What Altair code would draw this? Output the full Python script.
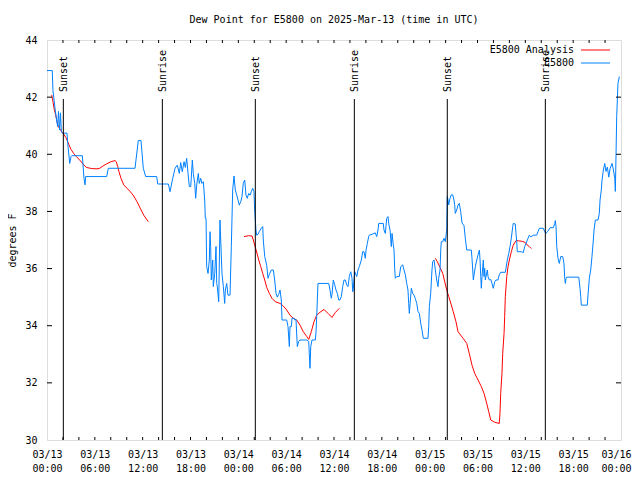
import altair as alt
import pandas as pd

# ---------------- data (hours since 2025-03-13 00:00 UTC, degrees F) ----------------
blue_hours = [
    0.0, 0.66, 0.75, 1.0, 1.2, 1.34, 1.44, 1.57, 1.69, 1.8, 1.92, 2.51, 2.6, 2.85, 3.01, 3.1,
    4.43, 4.64, 4.77, 4.85, 7.49, 7.69, 11.04, 11.45, 11.79, 12.08, 12.38, 13.76, 13.89, 15.22,
    15.43, 15.77, 16.06, 16.34, 16.6, 16.77, 16.97, 17.19, 17.35, 17.52, 17.69, 17.85, 18.03,
    18.23, 18.35, 18.53, 18.65, 18.78, 18.98, 19.1, 19.28, 19.44, 19.61, 19.78, 19.86, 19.95,
    20.03, 20.2, 20.36, 20.45, 20.53, 20.61, 20.79, 20.86, 21.04, 21.2, 21.29, 21.36, 21.54,
    21.7, 21.79, 21.95, 22.12, 22.29, 22.37, 22.54, 22.7, 22.96, 23.12, 23.29, 23.46, 23.62,
    23.8, 23.96, 24.12, 24.3, 24.46, 24.62, 24.8, 24.96, 25.12, 25.3, 25.47, 25.63, 25.8, 25.96,
    26.05, 26.13, 26.21, 26.3, 26.47, 26.63, 26.88, 27.06, 27.13, 27.31, 27.56, 27.72, 27.89,
    28.14, 28.39, 28.56, 28.73, 28.89, 29.06, 29.23, 29.39, 29.48, 30.07, 30.23, 30.4, 30.48,
    30.65, 30.73, 30.98, 31.07, 31.23, 31.4, 31.57, 31.74, 32.58, 32.83, 32.9, 32.99, 33.08,
    33.24, 33.66, 33.74, 33.83, 33.99, 35.34, 35.5, 35.66, 35.75, 35.91, 36.09, 36.25, 36.42,
    36.59, 36.75, 36.92, 37.09, 37.26, 37.42, 37.59, 37.76, 37.92, 38.1, 38.26, 38.35, 38.42,
    38.6, 38.85, 39.01, 39.18, 39.43, 39.6, 39.76, 39.93, 40.02, 40.18, 40.35, 40.43, 40.77,
    41.02, 41.18, 41.36, 41.52, 41.61, 42.18, 42.27, 42.44, 42.61, 42.77, 42.86, 43.03, 43.11,
    43.19, 43.28, 43.44, 43.53, 43.61, 43.69, 43.87, 44.19, 44.37, 44.62, 44.78, 44.95, 45.12,
    45.28, 45.37, 45.45, 45.53, 45.7, 45.87, 46.04, 46.2, 46.38, 46.54, 46.71, 46.88, 47.04,
    47.2, 47.79, 47.88, 47.96, 48.13, 48.29, 48.38, 48.55, 48.71, 48.88, 49.05, 49.13, 49.3,
    49.39, 49.46, 49.64, 49.8, 49.96, 50.14, 50.21, 50.3, 50.39, 50.55, 50.71, 50.89, 51.05,
    51.14, 51.21, 51.39, 51.56, 51.72, 51.89, 52.06, 52.31, 52.47, 52.65, 53.22, 53.31, 53.48,
    53.57, 53.73, 53.91, 54.07, 54.24, 54.32, 54.41, 54.48, 54.57, 54.66, 54.73, 54.82, 54.9,
    54.98, 55.07, 55.23, 55.32, 55.48, 55.66, 55.82, 55.98, 56.16, 56.32, 56.57, 56.73, 56.91,
    57.49, 57.57, 57.74, 57.92, 58.08, 58.24, 58.42, 58.49, 58.74, 58.83, 58.92, 58.99, 59.5,
    59.75, 59.92, 60.09, 60.34, 60.5, 60.68, 61.01, 61.43, 61.59, 61.76, 62.26, 62.43, 62.59,
    62.76, 62.93, 63.1, 63.51, 63.69, 63.76, 63.85, 63.94, 64.1, 64.26, 64.44, 64.69, 64.85,
    64.94, 65.02, 65.11, 65.19, 66.7, 66.86, 66.95, 67.02, 67.77, 67.86, 68.03, 68.2, 68.36,
    68.53, 68.62, 68.78, 69.12, 69.28, 69.37, 69.53, 69.62, 69.79, 69.96, 70.12, 70.29, 70.47,
    70.63, 70.88, 71.05, 71.22, 71.29, 71.38, 71.46, 71.62, 71.79,
]
blue_dewpoint = [
    42.93, 42.93, 42.23, 41.62, 41.2, 40.97, 41.5, 40.85, 41.45, 40.8, 40.74, 40.74, 40.38, 39.68,
    39.92, 39.95, 39.95, 39.16, 38.93, 39.22, 39.22, 39.51, 39.51, 40.48, 40.48, 39.51, 39.22,
    39.22, 38.96, 38.96, 38.69, 39.16, 39.51, 39.62, 39.33, 39.71, 39.39, 39.74, 39.54, 39.86,
    39.33, 38.87, 38.87, 39.8, 39.33, 38.98, 38.46, 38.93, 39.33, 38.98, 39.16, 38.98, 39.04,
    38.4, 37.76, 37.76, 36.07, 35.83, 36.3, 37.29, 36.77, 35.6, 36.3, 35.37, 35.83, 36.77, 35.48,
    35.37, 34.84, 37.7, 37.0, 35.83, 35.37, 34.78, 35.25, 35.48, 35.07, 35.07, 36.77, 38.75,
    39.24, 38.75, 38.57, 38.4, 38.22, 38.34, 38.52, 38.98, 39.1, 38.57, 38.46, 38.63, 38.57,
    38.69, 38.81, 38.69, 38.05, 37.7, 37.35, 37.17, 37.2, 37.3, 37.41, 37.47, 37.0, 36.42, 36.12,
    35.66, 35.8, 35.95, 35.95, 35.6, 35.13, 35.0, 35.1, 35.25, 34.9, 34.2, 34.2, 33.97, 33.27,
    33.97, 33.97, 34.26, 34.26, 34.2, 34.22, 33.27, 33.45, 33.5, 33.5, 33.45, 33.03, 32.51,
    33.27, 33.5, 33.5, 33.75, 34.32, 35.48, 35.48, 35.25, 34.96, 35.1, 35.6, 35.43, 35.25, 35.13,
    34.9, 34.9, 35.02, 35.37, 35.6, 35.6, 35.43, 35.37, 35.72, 35.89, 35.66, 35.19, 35.31, 35.89,
    35.72, 35.95, 36.07, 36.3, 36.59, 36.59, 36.36, 36.65, 36.88, 37.12, 37.17, 37.2, 37.23,
    37.25, 37.12, 37.35, 37.58, 37.58, 37.35, 37.23, 37.76, 37.82, 37.58, 37.35, 37.06, 36.77,
    37.23, 36.82, 36.65, 36.01, 35.66, 35.72, 35.72, 36.07, 36.13, 35.95, 35.78, 35.48, 35.25,
    34.78, 34.43, 34.72, 35.31, 35.13, 35.07, 34.95, 34.78, 34.49, 34.43, 34.08, 33.85, 33.56,
    33.56, 33.97, 34.67, 35.13, 35.95, 36.24, 36.3, 35.95, 35.6, 35.37, 35.66, 35.95, 36.65,
    36.94, 36.94, 37.06, 36.94, 37.35, 38.52, 38.4, 38.23, 38.46, 38.58, 38.58, 38.4, 38.23,
    37.93, 38.05, 38.22, 38.28, 37.99, 37.6, 37.5, 37.06, 36.65, 36.65, 36.36, 35.6, 35.78,
    36.07, 36.3, 36.48, 36.65, 36.3, 35.72, 35.31, 35.72, 36.07, 36.3, 35.72, 36.01, 35.6, 35.72,
    35.95, 35.72, 35.6, 35.62, 35.48, 35.31, 35.54, 35.6, 35.6, 35.78, 35.87, 35.87, 36.01,
    36.3, 36.53, 36.77, 37.06, 37.47, 37.58, 37.56, 37.23, 36.94, 36.59, 36.59, 36.56, 36.77,
    36.88, 37.06, 37.17, 37.11, 37.17, 37.17, 37.29, 37.41, 37.41, 37.29, 37.23, 37.29, 37.35,
    37.43, 37.43, 37.58, 37.68, 37.47, 36.77, 36.36, 36.18, 36.42, 36.42, 36.18, 35.66, 35.48,
    35.66, 35.7, 35.7, 35.31, 35.02, 34.72, 34.72, 35.07, 35.66, 35.95, 36.42, 37.0, 37.35,
    37.7, 37.7, 37.93, 38.4, 38.75, 39.1, 39.45, 39.68, 39.4, 39.55, 39.2, 39.5, 39.68, 39.45,
    39.16, 38.7, 40.03, 41.32, 42.48, 42.72,
]

analysis_hours = [
    0.59, 0.75, 0.92, 1.09, 1.25, 1.42, 1.59, 1.84, 2.09, 2.35, 2.51, 2.76, 3.01, 3.35, 3.68,
    4.1, 4.52, 4.93, 5.61, 6.27, 6.61, 7.02, 7.44, 8.03, 8.53, 8.69, 8.87, 9.03, 9.28, 9.62,
    10.04, 10.45, 10.88, 11.29, 11.7, 12.13, 12.71,
    24.71, 25.3, 25.72, 25.88, 26.05, 26.3, 26.56, 26.81, 27.06, 27.31, 27.56, 27.89, 28.22,
    28.64, 29.23, 29.64, 30.07, 30.48, 30.9, 31.32, 31.74, 32.15, 32.58, 32.83, 33.15, 33.49,
    33.83, 34.24, 34.75, 35.25, 35.75, 36.16, 36.67,
    48.71, 48.96, 49.3, 49.64, 49.89, 50.14, 50.39, 50.71, 50.96, 51.3, 51.56, 51.89, 52.22,
    52.65, 52.97, 53.31, 53.65, 54.07, 54.48, 54.82, 55.16, 55.41, 55.66, 56.16, 56.73, 56.82,
    56.91, 57.07, 57.16, 57.33, 57.41, 57.49, 57.67, 57.83, 58.0, 58.24, 58.49, 58.83, 59.17,
    59.67, 60.0, 60.25, 60.5, 60.75,
]
analysis_dewpoint = [
    42.08, 41.84, 41.55, 41.38, 41.15, 40.97, 40.9, 40.79, 40.71, 40.59, 40.5, 40.33, 40.17,
    40.03, 39.92, 39.8, 39.66, 39.54, 39.5, 39.49, 39.51, 39.59, 39.66, 39.74, 39.78, 39.74,
    39.57, 39.39, 39.16, 38.93, 38.81, 38.69, 38.54, 38.34, 38.11, 37.87, 37.64,
    37.12, 37.15, 37.14, 37.0, 36.82, 36.58, 36.3, 36.07, 35.83, 35.6, 35.34, 35.13, 34.96,
    34.84, 34.78, 34.69, 34.55, 34.37, 34.26, 34.2, 34.02, 33.79, 33.62, 33.52, 33.79, 34.14,
    34.37, 34.47, 34.57, 34.43, 34.29, 34.46, 34.61,
    36.36, 36.24, 36.04, 35.83, 35.54, 35.25, 35.02, 34.73, 34.49, 34.14, 33.79, 33.67, 33.55,
    33.38, 33.03, 32.62, 32.33, 32.1, 31.87, 31.63, 31.28, 30.99, 30.7, 30.62, 30.58, 30.93,
    31.63, 32.33, 33.03, 33.73, 34.32, 35.02, 35.72, 36.07, 36.3, 36.59, 36.82, 36.98, 36.97,
    36.95, 36.91, 36.82, 36.77, 36.7,
]

sun_hours = [2.05, 14.47, 26.13, 38.55, 50.21, 62.51]
sun_labels = ["Sunset", "Sunrise", "Sunset", "Sunrise", "Sunset", "Sunrise"]

x_tick_values = list(range(0, 73, 6))
x_minor_ticks = list(range(2, 72, 2))
y_tick_values = [30, 32, 34, 36, 38, 40, 42, 44]
legend_labels = ["E5800 Analysis", "E5800"]
series_colors = ["#ff0000", "#0080ff"]

title_text = "Dew Point for E5800 on 2025-Mar-13 (time in UTC)"
y_title = "degrees F"

FONT = "DejaVu Sans Mono"
W, H = 574, 400

# analysis runs are broken where there is no analysis (gaps of many hours)
analysis_segment = []
seg = 0
for i, h in enumerate(analysis_hours):
    if i > 0 and h - analysis_hours[i - 1] > 5:
        seg += 1
    analysis_segment.append(seg)

# ---------------- frames ----------------
obs = pd.DataFrame({"h": blue_hours, "v": blue_dewpoint})
ana = pd.DataFrame({"h": analysis_hours, "v": analysis_dewpoint, "seg": analysis_segment})
sun = pd.DataFrame({"h": sun_hours, "label": sun_labels})
xt = pd.DataFrame({"h": x_minor_ticks})
yt = pd.DataFrame({"v": y_tick_values[1:-1]})

label_expr = (
    "['03/' + (13 + floor(datum.value / 24)), "
    "(datum.value % 24 < 10 ? '0' : '') + (datum.value % 24) + ':00']"
)

x_scale = alt.Scale(domain=[0, 72], nice=False, zero=False)
y_scale = alt.Scale(domain=[30, 44], nice=False, zero=False)

x_axis = alt.Axis(
    values=x_tick_values, labelExpr=label_expr, title=None, grid=False, ticks=False,
    tickSize=0, domain=False, labelFont=FONT, labelFontSize=10, labelColor="black",
    labelPadding=17, labelBaseline="alphabetic", labelLineHeight=14, labelFlush=False,
    labelOverlap=False, labelBound=False,
    labelOffset={"condition": {"test": "datum.value == 72", "value": -5}, "value": 0},
)
y_axis = alt.Axis(
    values=y_tick_values, title=y_title, grid=False, ticks=False, tickSize=0, domain=False,
    labelFont=FONT, labelFontSize=10, labelColor="black", labelPadding=10, labelFlush=False,
    labelOverlap=False, labelBaseline="middle", titleFont=FONT, titleFontSize=10,
    titleFontWeight="normal", titleColor="black", titleAngle=270, titleX=-35, titleY=200,
    titleAlign="center", titleBaseline="middle",
)

base_x = alt.X("h:Q", scale=x_scale, axis=x_axis)
base_y = alt.Y("v:Q", scale=y_scale, axis=y_axis)

analysis_line = alt.Chart(ana).mark_line(color=series_colors[0], strokeWidth=1).encode(
    x=base_x, y=base_y, detail="seg:N"
)
obs_line = alt.Chart(obs).mark_line(color=series_colors[1], strokeWidth=1).encode(
    x=alt.X("h:Q", scale=x_scale), y=alt.Y("v:Q", scale=y_scale)
)

sun_rules = alt.Chart(sun).mark_rule(color="black", strokeWidth=1).encode(
    x=alt.X("h:Q", scale=x_scale), y=alt.value(59), y2=alt.value(H)
)
sun_text = alt.Chart(sun).mark_text(
    angle=270, align="left", baseline="middle", font=FONT, fontSize=10, color="black", dy=1
).encode(x=alt.X("h:Q", scale=x_scale), y=alt.value(52), text="label:N")

# tick marks (inward, gnuplot style)
tick_bottom = alt.Chart(xt).mark_rule(color="black").encode(
    x=alt.X("h:Q", scale=x_scale), y=alt.value(H), y2=alt.value(H - 3)
)
tick_top = alt.Chart(xt).mark_rule(color="black").encode(
    x=alt.X("h:Q", scale=x_scale), y=alt.value(0), y2=alt.value(3)
)
tick_left = alt.Chart(yt).mark_rule(color="black").encode(
    y=alt.Y("v:Q", scale=y_scale), x=alt.value(0), x2=alt.value(5)
)
tick_right = alt.Chart(yt).mark_rule(color="black").encode(
    y=alt.Y("v:Q", scale=y_scale), x=alt.value(W), x2=alt.value(W - 5)
)

# legend (gnuplot style: label then line sample)
leg = pd.DataFrame({"label": legend_labels, "color": series_colors, "row": [0, 1]})
row_scale = alt.Scale(domain=[0, 1], range=[10, 23])
legend_text = alt.Chart(leg).mark_text(
    align="right", baseline="middle", font=FONT, fontSize=10, color="black"
).encode(
    text="label:N", x=alt.value(527),
    y=alt.Y("row:Q", scale=row_scale, axis=None),
)
legend_lines = alt.Chart(leg).mark_rule(strokeWidth=1).encode(
    x=alt.value(534), x2=alt.value(563),
    y=alt.Y("row:Q", scale=row_scale, axis=None),
    color=alt.Color("color:N", scale=None),
)
legend_layer = alt.layer(legend_text, legend_lines)

main = alt.layer(
    analysis_line, obs_line, sun_rules, sun_text, tick_bottom, tick_top, tick_left, tick_right,
)

chart = alt.layer(main, legend_layer).resolve_scale(y="independent").properties(
    width=W, height=H,
    title=alt.TitleParams(
        title_text, font=FONT, fontSize=10, fontWeight="normal", color="black",
        anchor="middle", baseline="alphabetic", offset=2,
    ),
    autosize=alt.AutoSizeParams(type="none"),
    padding={"left": 39, "top": 32, "right": 11, "bottom": 32},
).configure_view(stroke="black", strokeWidth=1).configure(background="white")

chart.save("out.html", embed_options={"renderer": "svg", "actions": False})
